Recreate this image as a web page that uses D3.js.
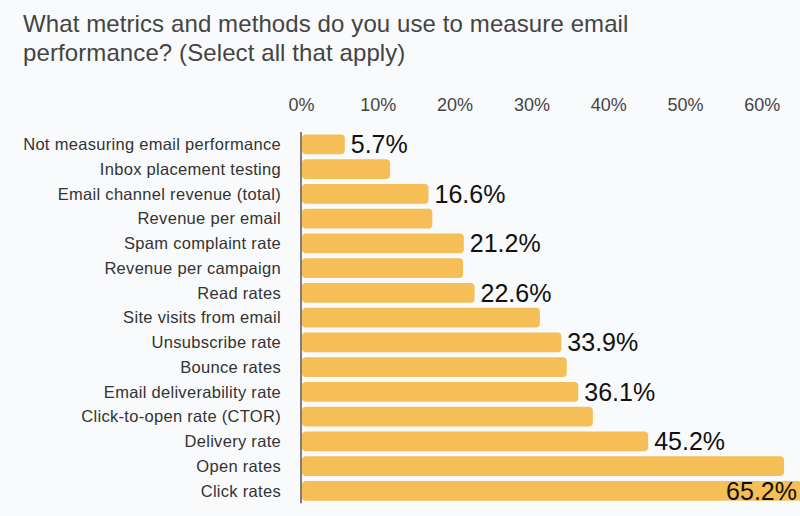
<!DOCTYPE html>
<html>
<head>
<meta charset="utf-8">
<script src="https://cdn.jsdelivr.net/npm/d3@7"></script>
<style>
    html, body { margin: 0; padding: 0; background: #f9fafb; }
    svg { display: block; font-family: "Liberation Sans", Arial, Helvetica, sans-serif; }
</style>
</head>
<body>
<svg id="chart" width="800" height="516"></svg>
<script>
"use strict";

var Categories = [
    "Not measuring email performance",
    "Inbox placement testing",
    "Email channel revenue (total)",
    "Revenue per email",
    "Spam complaint rate",
    "Revenue per campaign",
    "Read rates",
    "Site visits from email",
    "Unsubscribe rate",
    "Bounce rates",
    "Email deliverability rate",
    "Click-to-open rate (CTOR)",
    "Delivery rate",
    "Open rates",
    "Click rates"
];

// values, labelled ones are exact
var Values = [5.7, 11.6, 16.6, 17.1, 21.2, 21.1, 22.6, 31.1, 33.9, 34.6, 36.1, 38.0, 45.2, 62.9, 65.2];

// only every other bar carries a label
var ShowLabel = [true, false, true, false, true, false, true, false, true, false, true, false, true, false, true];

var TickValues = [0, 10, 20, 30, 40, 50, 60];

var TitleLines = [
    "What metrics and methods do you use to measure email",
    "performance? (Select all that apply)"
];

var BarColor = "#f5be56";

var svg = d3.select("#chart");
var width = 800;

var x = d3.scaleLinear()
    .domain([0, 60])
    .range([301, 301 + 460.8]);

var y = d3.scaleBand()
    .domain(Categories)
    .range([132, 132 + Categories.length * 24.75])
    .paddingInner(0.2)
    .paddingOuter(0.1);

// title
svg.append("g")
    .selectAll("text")
    .data(TitleLines)
    .enter()
    .append("text")
    .attr("x", 23)
    .attr("y", function (d, i) { return 32 + i * 29; })
    .style("font-size", "24px")
    .style("letter-spacing", "0.1px")
    .style("fill", "#444")
    .text(function (d) { return d; });

// top axis, labels only
var axis = svg.append("g")
    .attr("transform", "translate(0,111)")
    .call(d3.axisTop(x)
        .tickValues(TickValues)
        .tickSize(0)
        .tickPadding(0)
        .tickFormat(function (d) { return d + "%"; }));

axis.select(".domain").remove();
axis.selectAll("text")
    .style("font-family", "\"Liberation Sans\", Arial, sans-serif")
    .style("font-size", "18px")
    .style("fill", "#444");

// bars
svg.append("g")
    .selectAll("rect")
    .data(Values)
    .enter()
    .append("rect")
    .attr("x", x(0) + 1)
    .attr("y", function (d, i) { return y(Categories[i]); })
    .attr("width", function (d) { return x(d) - x(0) - 1; })
    .attr("height", y.bandwidth())
    .attr("rx", 4)
    .style("fill", BarColor);

// vertical baseline
svg.append("line")
    .attr("x1", x(0))
    .attr("x2", x(0))
    .attr("y1", y.range()[0])
    .attr("y2", y.range()[1])
    .style("stroke", "#555")
    .style("stroke-width", 1.5);

// category labels
svg.append("g")
    .selectAll("text")
    .data(Categories)
    .enter()
    .append("text")
    .attr("x", 281)
    .attr("y", function (d) { return y(d) + y.bandwidth() / 2; })
    .attr("dy", "0.35em")
    .attr("text-anchor", "end")
    .style("font-size", "16.5px")
    .style("letter-spacing", "0.3px")
    .style("fill", "#333")
    .text(function (d) { return d; });

// value labels
var valueLabels = svg.append("g")
    .selectAll("text")
    .data(Values.map(function (v, i) { return { v: v, i: i }; }).filter(function (d) { return ShowLabel[d.i]; }))
    .enter()
    .append("text")
    .attr("x", function (d) { return x(d.v) + 6; })
    .attr("y", function (d) { return y(Categories[d.i]) + y.bandwidth() / 2; })
    .attr("dy", "0.36em")
    .style("font-size", "25px")
    .style("fill", "#111")
    .text(function (d) { return d.v.toFixed(1) + "%"; });

// labels that would run off the edge are pulled back inside the bar
valueLabels.each(function () {
    var w = this.getComputedTextLength();
    var px = +this.getAttribute("x");
    if (px + w > width - 2) {
        d3.select(this).attr("x", width - 3).attr("text-anchor", "end");
    }
});
</script>
</body>
</html>
